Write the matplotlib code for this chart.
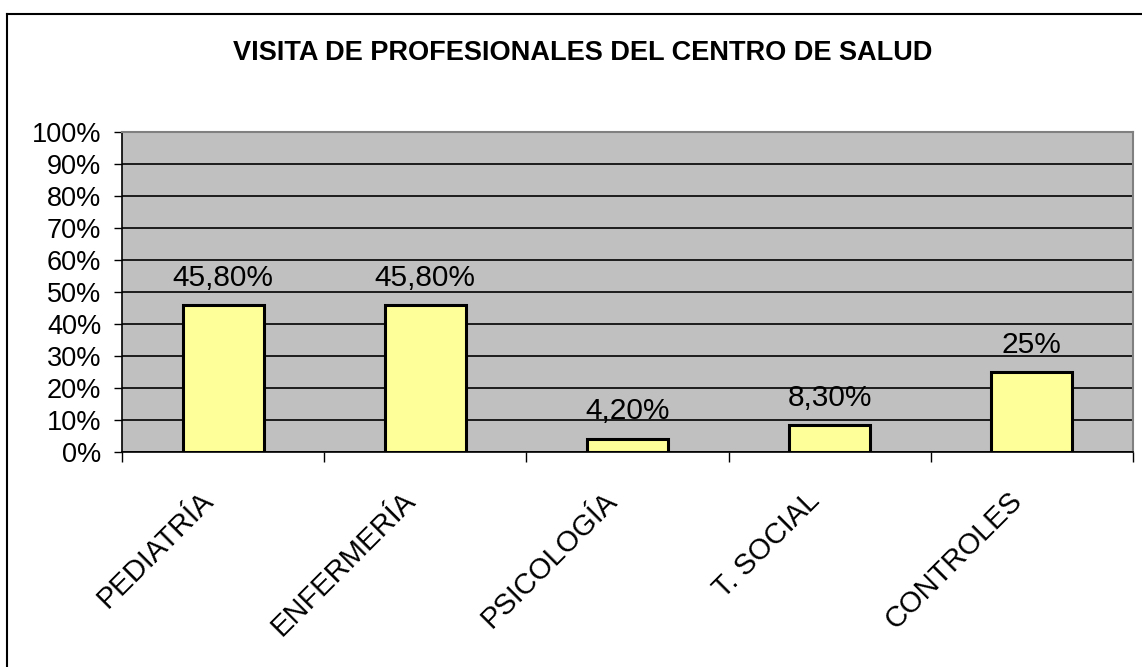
import matplotlib
matplotlib.use("Agg")
import matplotlib.pyplot as plt
from matplotlib.lines import Line2D

categories = ["PEDIATRÍA", "ENFERMERÍA", "PSICOLOGÍA", "T. SOCIAL", "CONTROLES"]
values = [45.8, 45.8, 4.2, 8.3, 25.0]
value_labels = ["45,80%", "45,80%", "4,20%", "8,30%", "25%"]
yticks = [0, 10, 20, 30, 40, 50, 60, 70, 80, 90, 100]
ytick_labels = [f"{v}%" for v in yticks]
title = "VISITA DE PROFESIONALES DEL CENTRO DE SALUD"

plt.rcParams['font.family'] = ['Liberation Sans', 'DejaVu Sans']

fig = plt.figure(figsize=(11.42, 6.67), dpi=100)
ax = fig.add_axes([122/1142, 1-452/667, (1133-122)/1142, (452-132)/667])
ax.set_facecolor('#C0C0C0')

x = list(range(len(categories)))
ax.bar(x, values, width=0.4, color='#FFFF99', edgecolor='black', linewidth=2.2, zorder=3)
for xi, v, lab in zip(x, values, value_labels):
    ax.annotate(lab, (xi, v), xytext=(0, 14), textcoords='offset points',
                ha='center', va='baseline', fontsize=21.5, zorder=4)

ax.set_xlim(-0.5, len(categories) - 0.5)
ax.set_ylim(0, 100)
ax.set_yticks(yticks)
ax.set_yticklabels(ytick_labels, fontsize=19.5)
ax.yaxis.grid(True, color='black', linewidth=1.2, zorder=1)
ax.set_axisbelow(True)
ax.tick_params(axis='y', length=6, width=1, color='black', pad=9)

ax.set_xticks([i - 0.5 for i in range(len(categories) + 1)], minor=False)
ax.set_xticklabels([])
ax.tick_params(axis='x', length=7, width=1, color='black', direction='out')
for xi, cat in zip(x, categories):
    ax.text(xi - 0.12, -10.8, cat, rotation=45, ha='right', va='top', rotation_mode='anchor',
            fontsize=21, transform=ax.transData, clip_on=False)

for s in ['top', 'right']:
    ax.spines[s].set_color('#808080')
    ax.spines[s].set_linewidth(1.5)
ax.spines['left'].set_color('black')
ax.spines['bottom'].set_color('black')
ax.spines['left'].set_linewidth(1.2)
ax.spines['bottom'].set_linewidth(1.2)

fig.text(583/1142, 1 - 53/667, title, ha='center', va='center', fontsize=19.5, fontweight='bold')

# Chart frame (top and left edges visible)
fig.add_artist(Line2D([7/1142, 7/1142], [0, 1 - 14/667], color='black', linewidth=1.5, transform=fig.transFigure))
fig.add_artist(Line2D([7/1142, 1], [1 - 14/667, 1 - 14/667], color='black', linewidth=1.5, transform=fig.transFigure))

fig.savefig('out.png', dpi=100, facecolor='white')
